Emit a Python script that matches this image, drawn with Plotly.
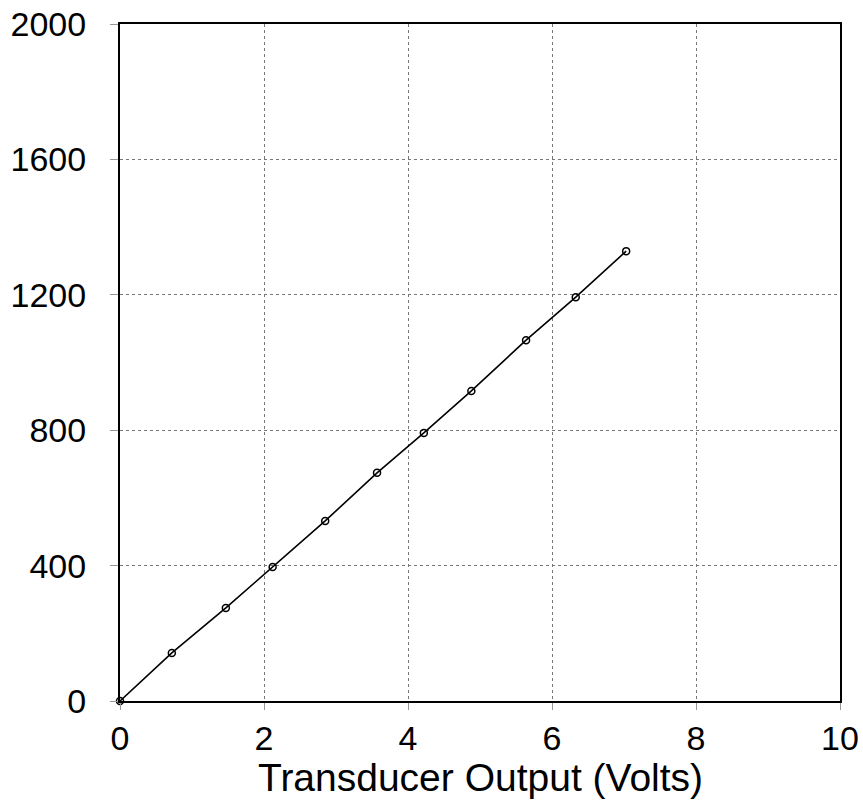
import plotly.graph_objects as go

volts = [0, 0.72, 1.47, 2.12, 2.85, 3.57, 4.22, 4.88, 5.64, 6.33, 7.03]
values = [0, 142, 275, 396, 532, 674, 792, 916, 1066, 1193, 1329]
x_ticks = [0, 2, 4, 6, 8, 10]
y_ticks = [0, 400, 800, 1200, 1600, 2000]
x_title = "Transducer Output (Volts)"

fig = go.Figure()
fig.add_trace(go.Scatter(
    x=volts, y=values, mode="lines+markers",
    line=dict(color="black", width=1.6),
    marker=dict(symbol="circle-open", size=7, color="black", line=dict(width=1.5)),
    showlegend=False, cliponaxis=False,
))

font = dict(family="Liberation Sans, Arial, sans-serif", color="black")
fig.update_layout(
    width=863, height=800,
    margin=dict(l=120, r=23, t=24, b=99, autoexpand=False),
    paper_bgcolor="white", plot_bgcolor="white",
    font=font,
)
fig.update_xaxes(
    range=[0, 10], tickvals=x_ticks, ticktext=[str(v) for v in x_ticks],
    tickfont=dict(size=34), showgrid=True, gridcolor="#777", griddash="dot", gridwidth=1,
    showline=True, linecolor="black", linewidth=2, mirror=True,
    ticks="outside", ticklen=7, tickcolor="#999", tickwidth=1, ticklabelstandoff=-1,
    ticklabeloverflow="allow",
    zeroline=False, automargin=False,
)
fig.update_yaxes(
    range=[0, 2000], tickvals=y_ticks, ticktext=[str(v) for v in y_ticks],
    tickfont=dict(size=34), showgrid=True, gridcolor="#777", griddash="dot", gridwidth=1,
    showline=True, linecolor="black", linewidth=2, mirror=True,
    ticks="outside", ticklen=8, tickcolor="#999", tickwidth=1, ticklabelstandoff=17,
    ticklabeloverflow="allow",
    zeroline=False, automargin=False,
)
fig.add_annotation(
    text=x_title, xref="paper", yref="paper", x=0.5, y=-0.113,
    xanchor="center", yanchor="middle", showarrow=False,
    font=dict(size=39, family="Liberation Sans, Arial, sans-serif", color="black"),
)

fig.write_html(
    "out.html",
    config={"displayModeBar": False},
    post_script="document.body.style.margin='0';document.body.style.overflow='hidden';",
)
